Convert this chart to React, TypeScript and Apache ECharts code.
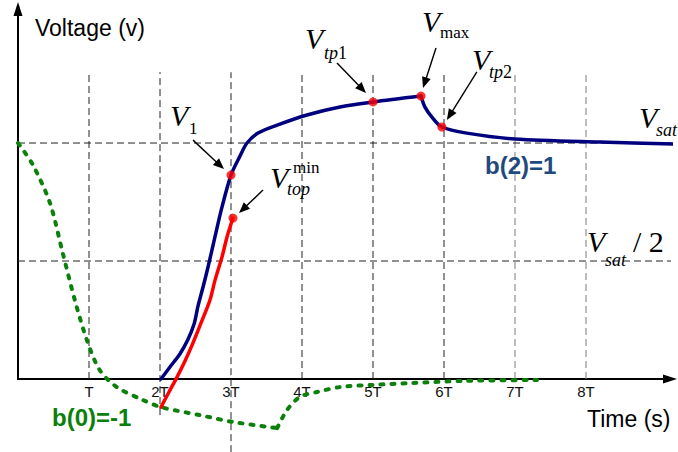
import React, { useEffect, useRef } from "react";
import * as echarts from "echarts";

// Time is measured in periods T, voltage relative to Vsat (= 1).
const xTickLabels = ["T", "2T", "3T", "4T", "5T", "6T", "7T", "8T"];
const guideTimes = [1, 2, 3, 4, 5, 6, 7, 8];
const guideBottoms = [0, -0.153, -0.31, 0, 0, 0, 0, 0];
const guideTop = 1.3;
const vSat = 1;
const xEnd = 9.28;

// Output voltage with b(2)=1: rise up to Vmax, then settling towards Vsat
const blueRise: [number, number][] = [
  [2.014, 0], [2.14, 0.051], [2.28, 0.106], [2.39, 0.165], [2.48, 0.233],
  [2.535, 0.309], [2.61, 0.394], [2.68, 0.479], [2.77, 0.597], [2.87, 0.725],
  [3.0, 0.864], [3.127, 0.945], [3.225, 1.0], [3.38, 1.042], [3.65, 1.076],
  [4.07, 1.119], [4.535, 1.153], [5.0, 1.174], [5.676, 1.199],
];
const blueFall: [number, number][] = [
  [5.676, 1.199], [5.73, 1.153], [5.83, 1.11], [5.97, 1.068], [6.32, 1.042],
  [7.0, 1.017], [8.2, 1.004], [9.28, 0.996],
];
// Minimum top voltage branch
const redRise: [number, number][] = [
  [2.014, -0.119], [2.127, -0.055], [2.24, 0.008], [2.352, 0.076], [2.465, 0.153],
  [2.577, 0.237], [2.704, 0.335], [2.775, 0.419], [2.873, 0.517], [2.944, 0.602],
  [3.028, 0.682],
];
// Voltage with b(0)=-1
const greenFall: [number, number][] = [
  [0, 1.0], [0.21, 0.907], [0.45, 0.746], [0.63, 0.534], [0.8, 0.335],
  [0.97, 0.165], [1.15, 0.038], [1.39, -0.034], [1.76, -0.089], [2.01, -0.119],
  [2.56, -0.153], [3.03, -0.182], [3.65, -0.208],
];
const greenRecover: [number, number][] = [
  [3.65, -0.208], [3.79, -0.131], [3.97, -0.076], [4.21, -0.055], [4.54, -0.034],
  [5.0, -0.025], [5.56, -0.017], [6.27, -0.008], [7.31, -0.004],
];

const markedNames = ["V1", "Vtop", "Vtp1", "Vmax", "Vtp2"];
const markedValues: [number, number][] = [
  [3.0, 0.864], [3.028, 0.682], [5.0, 1.174], [5.676, 1.199], [5.97, 1.068],
];

const SERIF = '"Liberation Serif", "Times New Roman", serif';
const SANS = '"Liberation Sans", Arial, sans-serif';

export default function App() {
  const ref = useRef<HTMLDivElement>(null);

  useEffect(() => {
    const el = ref.current!;
    const chart = echarts.init(el, null, { renderer: "svg" });

    const guide = (data: [number, number][], color: string) => ({
      type: "line",
      data,
      symbol: "none",
      silent: true,
      clip: false,
      z: 1,
      lineStyle: { color, width: 1, type: [7, 4] },
    });

    const curve = (data: [number, number][], color: string, extra: any = {}) => ({
      type: "line",
      data,
      symbol: "none",
      smooth: 0.3,
      clip: false,
      z: 3,
      lineStyle: { color, width: 3.5, cap: "round", join: "round", ...extra },
    });

    chart.setOption({
      animation: false,
      grid: { left: 18, right: 8, top: 9, bottom: 73 },
      xAxis: {
        type: "value",
        min: 0,
        max: 9.183,
        interval: 1,
        splitLine: { show: false },
        axisTick: { show: false },
        axisLine: {
          lineStyle: { color: "#000", width: 2 },
          symbol: ["none", "triangle"],
          symbolSize: [9, 14],
        },
        axisLabel: {
          margin: 5,
          color: "#111",
          fontFamily: SANS,
          fontSize: 15,
          showMinLabel: false,
          showMaxLabel: false,
          formatter: (v: number) => xTickLabels[Math.round(v) - 1] ?? "",
        },
      },
      yAxis: {
        type: "value",
        min: 0,
        max: 1.568,
        splitLine: { show: false },
        axisTick: { show: false },
        axisLabel: { show: false },
        axisLine: {
          lineStyle: { color: "#000", width: 2 },
          symbol: ["none", "triangle"],
          symbolSize: [9, 14],
        },
      },
      series: [
        ...guideTimes.map((t, i) =>
          guide([[t, guideBottoms[i]], [t, guideTop]], t >= 7 ? "#7a7a7a" : "#222")
        ),
        guide([[0, vSat], [xEnd, vSat]], "#222"),
        guide([[0, vSat / 2], [xEnd, vSat / 2]], "#222"),
        curve(greenFall, "#0b800b", { width: 4, type: [3, 8] }),
        curve(greenRecover, "#0b800b", { width: 4, type: [3, 8] }),
        curve(blueRise, "#00007f"),
        curve(blueFall, "#00007f"),
        curve(redRise, "#ff0000"),
        {
          type: "scatter",
          data: markedValues.map((v, i) => ({ name: markedNames[i], value: v })),
          symbol: "circle",
          symbolSize: 9,
          clip: false,
          z: 5,
          itemStyle: { color: "#ff0000" },
        },
      ],
    });

    // Annotation arrows, placed relative to the marked points (tail, tip offsets in px)
    const arrowOffsets: Record<string, [[number, number], [number, number]]> = {
      V1: [[-38, -35], [-7, -6]],
      Vtop: [[30, -28], [6, -5]],
      Vtp1: [[-36, -39], [-7, -9]],
      Vmax: [[15, -48], [2, -8]],
      Vtp2: [[35, -55], [5, -7]],
    };
    const graphics: any[] = [];
    markedNames.forEach((name, i) => {
      const p = chart.convertToPixel({ gridIndex: 0 }, markedValues[i]) as number[];
      const [tailOff, tipOff] = arrowOffsets[name];
      const tail = [p[0] + tailOff[0], p[1] + tailOff[1]];
      const tip = [p[0] + tipOff[0], p[1] + tipOff[1]];
      const dx = tip[0] - tail[0];
      const dy = tip[1] - tail[1];
      const len = Math.hypot(dx, dy);
      const ux = dx / len;
      const uy = dy / len;
      const L = 11;
      const W = 4.5;
      const base = [tip[0] - ux * L, tip[1] - uy * L];
      graphics.push({
        type: "line",
        shape: { x1: tail[0], y1: tail[1], x2: base[0] + ux * 2, y2: base[1] + uy * 2 },
        style: { stroke: "#000", lineWidth: 1.4 },
        z: 10,
      });
      graphics.push({
        type: "polygon",
        shape: {
          points: [
            tip,
            [base[0] - uy * W, base[1] + ux * W],
            [base[0] + uy * W, base[1] - ux * W],
          ],
        },
        style: { fill: "#000" },
        z: 10,
      });
    });

    const txt = (x: number, y: number, text: string, font: string, fill = "#000") => ({
      type: "text",
      x,
      y,
      z: 11,
      style: {
        text,
        font,
        fill,
        align: "left",
        verticalAlign: "middle",
        textAlign: "left",
        textVerticalAlign: "middle",
      },
    });
    const bigV = `italic 30px ${SERIF}`;
    const subI = `italic 18px ${SERIF}`;
    const subR = `17px ${SERIF}`;
    // Subscript with italic letters followed by an upright digit
    const sub = (x: number, y: number, letters: string, digit: string) => ({
      type: "text",
      x,
      y,
      z: 11,
      style: {
        text: `{i|${letters}}{r|${digit}}`,
        align: "left",
        verticalAlign: "middle",
        textAlign: "left",
        textVerticalAlign: "middle",
        rich: {
          i: { font: subI, fill: "#000" },
          r: { font: `18px ${SERIF}`, fill: "#000" },
        },
      },
    });

    graphics.push(
      txt(35, 28, "Voltage (v)", `23px ${SANS}`),
      txt(587, 419, "Time (s)", `23px ${SANS}`),
      txt(485, 165, "b(2)=1", `bold 24px ${SANS}`, "#1f4a7e"),
      txt(52, 417, "b(0)=-1", `bold 24px ${SANS}`, "#0b800b"),
      // V1
      txt(170, 115, "V", bigV),
      txt(189, 128, "1", subR),
      // Vtop^min
      txt(270, 177, "V", bigV),
      txt(293, 167, "min", subR),
      txt(287, 189, "top", subI),
      // Vtp1
      txt(305, 38, "V", bigV),
      sub(324, 53, "tp", "1"),
      // Vmax
      txt(422, 21, "V", bigV),
      txt(440, 32, "max", subR),
      // Vtp2
      txt(472, 59, "V", bigV),
      sub(489, 72, "tp", "2"),
      // Vsat
      txt(639, 117, "V", bigV),
      txt(656, 130, "sat", subI),
      // Vsat / 2
      txt(587, 241, "V", bigV),
      txt(605, 260, "sat", subI),
      txt(633, 241, "/ 2", `30px ${SERIF}`)
    );

    chart.setOption({ graphic: graphics });

    return () => chart.dispose();
  }, []);

  return (
    <div
      ref={ref}
      style={{ position: "fixed", left: 0, top: 0, width: 678, height: 452, background: "#fff" }}
    />
  );
}
